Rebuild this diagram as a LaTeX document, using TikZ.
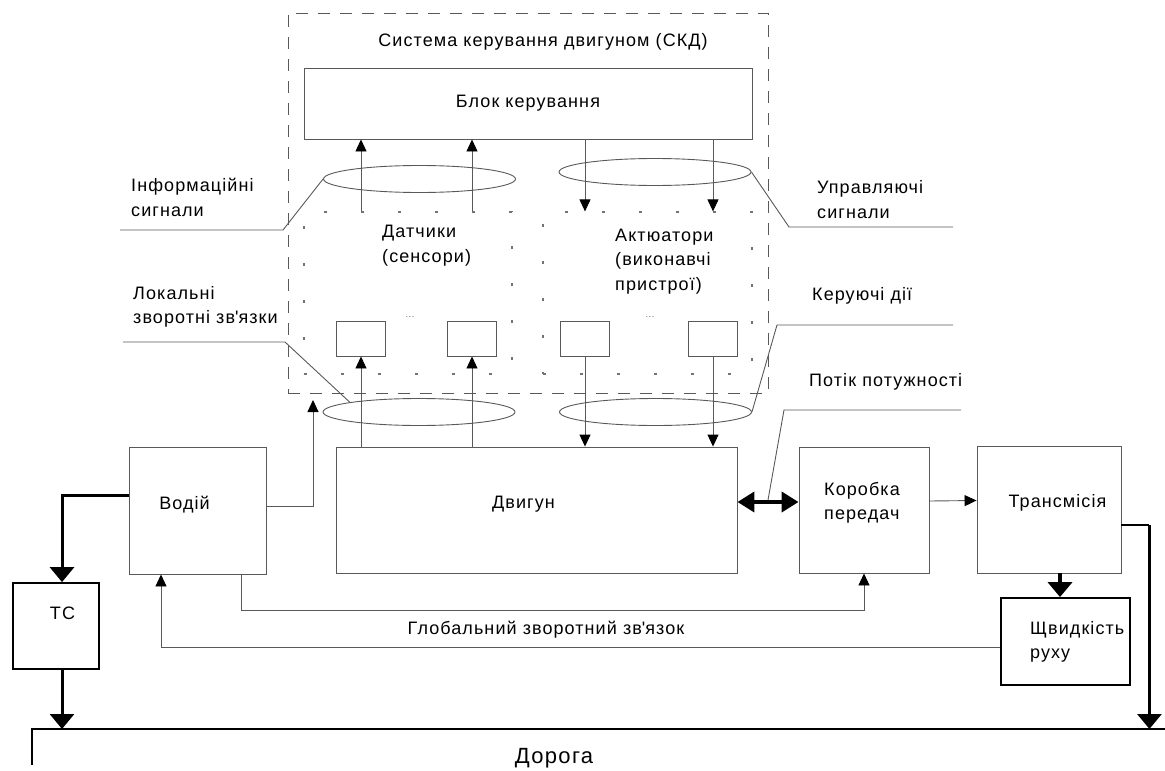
\documentclass[tikz,border=0pt]{standalone}
\usepackage{fontspec}
\setmainfont{Liberation Sans}[LetterSpace=6]
\usetikzlibrary{calc,arrows.meta,shapes.geometric}

\begin{document}
\begin{tikzpicture}[x=1pt,y=-1pt]
    \tikzstyle{every node}=[inner sep=0, font=\fontsize{18}{24.5}\selectfont, align=left]
    \tikzstyle{ln}=[draw=black!65, line width=.9pt]
    \tikzstyle{blk}=[ln, rectangle]
    \tikzstyle{boldblk}=[draw=black, line width=1.8pt, rectangle]
    \tikzstyle{ring}=[ln, ellipse, minimum width=192, minimum height=27]
    \tikzstyle{dots}=[draw=black!55, line width=1.2pt, dash pattern=on 3pt off 34pt]
    \tikzstyle{arr}=[ln, -{Triangle[length=12pt,width=11pt,color=black]}]
    \tikzstyle{bigarr}=[draw=black, line width=3pt, -{Triangle[length=15pt,width=24pt]}]
    \useasboundingbox (0,0) rectangle (1165,771);
    % engine control system
    \node[draw=black!65, line width=1pt, dash pattern=on 12pt off 10pt, minimum width=480, minimum height=380] (SKD) at (528,203) {};
    \node (SKDL) at (543,42) {Система керування двигуном (СКД)};
    \node[blk, minimum width=448, minimum height=71] (BK) at (528,103.5) {Блок керування};
    \node[dots, minimum width=208, minimum height=162] (DAT) at (408,293) {};
    \node[dots, minimum width=209, minimum height=162] (ACT) at (647.5,293) {};
    \node[anchor=west] (DATL) at (382,245.5) {Датчики\\(сенсори)};
    \node[anchor=west] (ACTL) at (615,261.5) {Актюатори\\(виконавчі\\пристрої)};
    \node[blk, minimum width=49, minimum height=35] (S1) at (361,338.5) {};
    \node[blk, minimum width=49, minimum height=35] (S2) at ($(S1)+(111,0)$) {};
    \node[blk, minimum width=49, minimum height=35] (A1) at (585,338.5) {};
    \node[blk, minimum width=49, minimum height=35] (A2) at ($(A1)+(128,0)$) {};
    \node[font=\fontsize{9}{10}\selectfont, text=black!60] (DOTS1) at (410,317) {...};
    \node[font=\fontsize{9}{10}\selectfont, text=black!60] (DOTS2) at (650,317) {...};
    % signal bundles
    \node[ring] (EI) at (419.5,179) {};
    \node[ring] (EU) at (655,172) {};
    \node[ring] (EL) at (419,412) {};
    \node[ring] (EK) at (655.5,412) {};
    \draw[arr] (S1 |- DAT.north) -- (S1 |- BK.south);
    \draw[arr] (S2 |- DAT.north) -- (S2 |- BK.south);
    \draw[arr] (A1 |- BK.south) -- (A1 |- ACT.north);
    \draw[arr] (A2 |- BK.south) -- (A2 |- ACT.north);
    % vehicle
    \node[blk, minimum width=137, minimum height=127] (VOD) at (197.5,510.5) {};
    \node (VODL) at (184.5,505) {Водій};
    \node[blk, minimum width=401, minimum height=126] (DV) at (536.5,510) {};
    \node (DVL) at (523.5,504) {Двигун};
    \node[blk, minimum width=130, minimum height=126] (KP) at (864,510) {};
    \node (KPL) at (862,503) {Коробка\\передач};
    \node[blk, minimum width=144, minimum height=127] (TR) at (1049,509.5) {};
    \node (TRL) at (1057.5,503) {Трансмісія};
    \node[boldblk, minimum width=129, minimum height=87] (SHV) at (1065.5,641.5) {};
    \node[anchor=west] (SHVL) at (1030,642) {Щвидкість\\руху};
    \node[boldblk, minimum width=86, minimum height=86] (TS) at (56,626) {};
    \node (TSL) at (62.5,613) {ТС};
    \draw[arr] (S1 |- DV.north) -- (S1.south);
    \draw[arr] (S2 |- DV.north) -- (S2.south);
    \draw[arr] (A1.south) -- (A1 |- DV.north);
    \draw[arr] (A2.south) -- (A2 |- DV.north);
    % road
    \coordinate (RL) at (32,729);
    \coordinate (RR) at (1165,729);
    \coordinate (RB) at (32,765);
    \draw[line width=1.5pt] (RB) -- (RL) -- (RR);
    \node[font=\fontsize{22}{26}\selectfont] (ROAD) at (554,758) {Дорога};
    % links
    \coordinate (VUP) at (313,400);
    \draw[arr] ([yshift=4.5]VOD.east) -| (VUP);
    \draw[bigarr] ([yshift=15.5]VOD.west) -| ([xshift=6]TS.north);
    \draw[bigarr] ([xshift=6]TS.south) -- ([xshift=6]TS.south |- RL);
    \draw[line width=4pt, {Triangle[length=17pt,width=20pt]}-{Triangle[length=17pt,width=20pt]}] ([yshift=8]DV.east) -- ([yshift=8]KP.west);
    \draw[arr] ([yshift=9]KP.east) -- ([yshift=9]TR.west);
    \draw[bigarr, line width=4pt] ([xshift=11]TR.south) -- ([xshift=11]TR.south |- SHV.north);
    \coordinate (TRC) at ($(TR.east)+(28,15.5)$);
    \draw[ln, draw=black, line width=1.2pt] ([yshift=-15.5]TR.east) -- (TRC);
    \draw[bigarr] (TRC) -- (TRC |- RR);
    \draw[arr] ([xshift=43.5]VOD.south) -- ++(0,36) -| (KP.south);
    \draw[arr] ([yshift=-5.5]SHV.west) -| ([xshift=-36.5]VOD.south);
    \node (GZZ) at (546,630) {Глобальний зворотний зв\textquotesingle язок};
    % labels with leaders
    \node[anchor=west] (ISL) at (131,197.5) {Інформаційні\\сигнали};
    \coordinate (IS1) at (283,230);
    \coordinate (IS2) at (120,230);
    \draw[ln] (EI.west) -- (IS1) -- (IS2);
    \node[anchor=west] (USL) at (817,199.5) {Управляючі\\сигнали};
    \coordinate (US1) at (789,227);
    \coordinate (US2) at (953,227);
    \draw[ln] (EU.east) -- (US1) -- (US2);
    \node[anchor=west] (LZL) at (133,307) {Локальні\\зворотні зв\textquotesingle язки};
    \coordinate (LZ1) at (285,342);
    \coordinate (LZ2) at (123,342);
    \draw[ln] (EL.172) -- (LZ1) -- (LZ2);
    \node[anchor=west] (KDL) at (812,296) {Керуючі дії};
    \coordinate (KD1) at (777,325);
    \coordinate (KD2) at (953,325);
    \draw[ln] (EK.east) -- (KD1) -- (KD2);
    \node[anchor=west] (PPL) at (809,382) {Потік потужності};
    \coordinate (PP0) at ($(DV.east)!.5!(KP.west)+(0,-10)$);
    \coordinate (PP1) at (784,410);
    \coordinate (PP2) at (961,410);
    \draw[ln] (PP2) -- (PP1) -- (PP0);
\end{tikzpicture}
\end{document}
